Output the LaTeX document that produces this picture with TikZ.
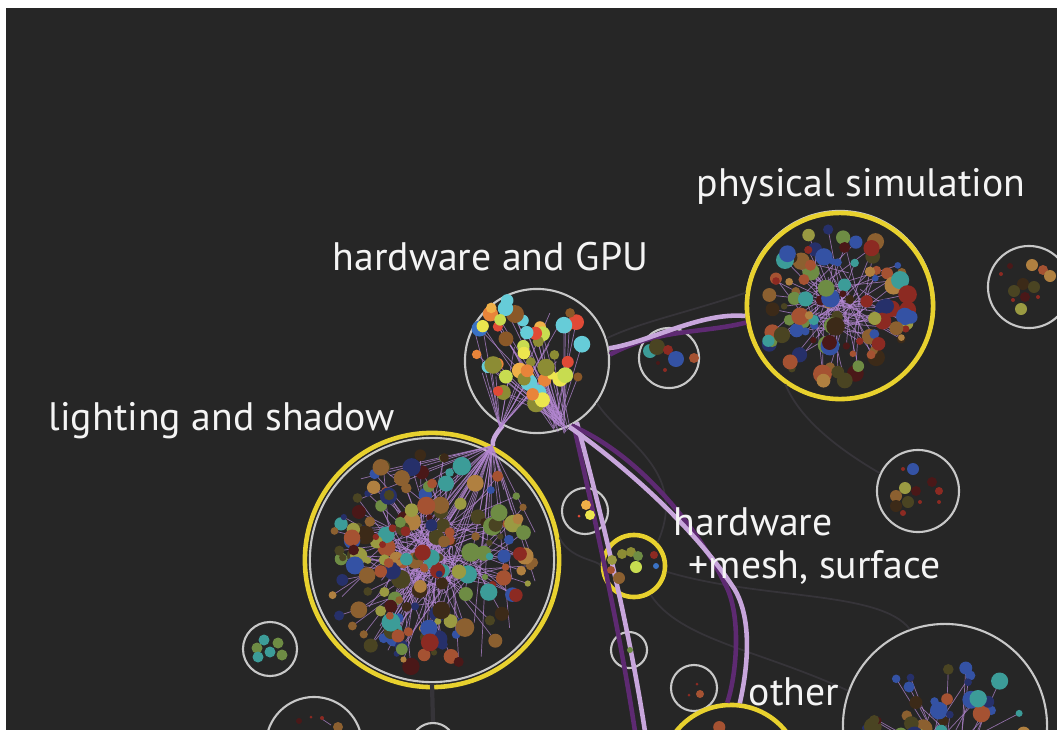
\documentclass[tikz,border=0pt]{standalone}
\usepackage{fontspec}
\setmainfont{PT Sans}
\usepackage{tikz}

\definecolor{backdrop}{HTML}{262626}
\definecolor{ringgray}{HTML}{C8C8C8}
\definecolor{hiyellow}{HTML}{E8D12E}
\definecolor{bundlelight}{HTML}{C8A6DC}
\definecolor{bundledark}{HTML}{5E2A72}
\definecolor{faintgray}{HTML}{363439}
\definecolor{fibrepurple}{HTML}{B487D2}
\definecolor{labelwhite}{HTML}{F4F4F4}
\definecolor{wOrange}{HTML}{E8843A}
\definecolor{wAmber}{HTML}{F0B048}
\definecolor{wYellow}{HTML}{ECE64E}
\definecolor{wLime}{HTML}{C8DC50}
\definecolor{wBlue}{HTML}{3A72C4}
\definecolor{wCyan}{HTML}{66CCD8}
\definecolor{wRed}{HTML}{E04A36}
\definecolor{wOlive}{HTML}{8C8C34}
\definecolor{wBrown}{HTML}{8A5828}
\definecolor{mOlive}{HTML}{4A4422}
\definecolor{mBrown}{HTML}{3C2A18}
\definecolor{mTan}{HTML}{8C6030}
\definecolor{mRust}{HTML}{A55232}
\definecolor{mKhaki}{HTML}{9A9A42}
\definecolor{mGreen}{HTML}{6E8C44}
\definecolor{mTeal}{HTML}{3C9C98}
\definecolor{mNavy}{HTML}{26306A}
\definecolor{mBlue}{HTML}{3452A4}
\definecolor{mMaroon}{HTML}{4A1818}
\definecolor{mRed}{HTML}{8C2A22}
\definecolor{mOchre}{HTML}{B08040}

\def\warmcols{{"wOrange","wAmber","wYellow","wLime","wBlue","wCyan","wRed","wOlive","wBrown","wOrange","wYellow","wCyan"}}
\def\mutedcols{{"mOlive","mBrown","mTan","mRust","mKhaki","mGreen","mTeal","mNavy","mBlue","mMaroon","mRed","mOchre"}}
\def\dotmin{3}
\def\dotvar{6.5}

\tikzset{
  ring/.style={circle,draw=ringgray,line width=0.6pt,inner sep=0pt,minimum size=#1*0.02cm},
  hilite/.style={circle,draw=hiyellow,line width=1.3pt,inner sep=0pt,minimum size=#1*0.02cm},
  bundle/.style={draw=bundlelight,line width=1.3pt},
  darkbundle/.style={draw=bundledark,line width=1.3pt},
  faint/.style={draw=faintgray,line width=0.5pt},
  fibre/.style={draw=fibrepurple,line width=0.2pt,draw opacity=0.75},
  topic/.style={text=labelwhite,font=\fontsize{11.3}{13}\selectfont,anchor=base west,inner sep=0pt}
}

\newcommand\dotweb[9]{%
  \pgfmathsetseed{#5}
  \foreach \k in {1,...,#4}{
    \pgfmathsetmacro\ang{360*rnd}
    \pgfmathsetmacro\rad{#3*sqrt(rnd)}
    \pgfmathsetmacro\sz{\dotmin+\dotvar*rnd}
    \pgfmathtruncatemacro\ci{12*rnd}
    \pgfmathsetmacro\tang{360*rnd}
    \pgfmathsetmacro\trad{#9*rnd}
    \draw[fibre] ({#1+\rad*cos(\ang)},{#2+\rad*sin(\ang)}) -- ({#7+\trad*cos(\tang)},{#8+\trad*sin(\tang)});
  }
  \pgfmathsetseed{#5}
  \foreach \k in {1,...,#4}{
    \pgfmathsetmacro\ang{360*rnd}
    \pgfmathsetmacro\rad{#3*sqrt(rnd)}
    \pgfmathsetmacro\sz{\dotmin+\dotvar*rnd}
    \pgfmathtruncatemacro\ci{12*rnd}
    \pgfmathsetmacro\tang{360*rnd}
    \pgfmathsetmacro\trad{#9*rnd}
    \pgfmathsetmacro\col{#6[\ci]}
    \fill[\col] ({#1+\rad*cos(\ang)},{#2+\rad*sin(\ang)}) circle (\sz);
  }}

\newcommand\fanweb[7]{%
  \pgfmathsetseed{#7}
  \foreach \k in {1,...,#6}{
    \pgfmathsetmacro\ang{360*rnd}
    \pgfmathsetmacro\rad{#5*sqrt(rnd)}
    \draw[fibre] (#1,#2) -- ({#3+\rad*cos(\ang)},{#4+\rad*sin(\ang)});
  }}

\begin{document}
\begin{tikzpicture}[x=0.01cm,y=-0.01cm]
\useasboundingbox (0,0) rectangle (1057,730);
\fill[white] (0,0) rectangle (1057,730);
\fill[backdrop] (6,8) rectangle (1057,730);
\begin{scope}
\clip (6,8) rectangle (1057,730);
\node[ring=72] (gpu) at (537,361) {};
\node[ring=30] (gpuside) at (669,358) {};
\node[ring=94] (physin) at (840,305) {};
\node[hilite=93] (phys) at (840,306) {};
\node[ring=41] (farright) at (1029,287) {};
\node[ring=122] (lightin) at (432,560) {};
\node[hilite=127] (light) at (432,560) {};
\node[ring=23] (pair) at (585,511) {};
\node[hilite=31] (mesh) at (634,566) {};
\node[ring=18] (lone) at (629,650) {};
\node[ring=23] (sparse) at (694,688) {};
\node[hilite=70] (other) at (731,775) {};
\node[ring=102] (bigright) at (945,726) {};
\node[ring=41] (midright) at (918,491) {};
\node[ring=27] (teal) at (270,649) {};
\node[ring=48] (lowleft) at (314,745) {};
\node[ring=22] (lowmid) at (433,745) {};
\coordinate (offA) at (637,745);
\coordinate (offB) at (647,745);

\draw[faint] (gpu.18) .. controls (640,322) and (690,312) .. (phys.172);
\draw[faint] (gpu.-35) .. controls (620,440) and (690,470) .. (mesh.45);
\draw[faint] (mesh.-60) .. controls (680,640) and (760,650) .. (bigright.160);
\draw[faint] (mesh.-10) .. controls (760,600) and (880,590) .. (bigright.110);
\draw[faint] (mesh.180) .. controls (600,560) and (570,560) .. (light.10);
\draw[faint] (phys.-125) .. controls (800,420) and (840,450) .. (midright.155);
\draw[faint,line width=1.2pt] (lightin.-90) -- (lowmid.90);

\draw[darkbundle] (gpu.5) .. controls (660,328) and (700,334) .. (phys.190);
\draw[bundle] (gpu.10) .. controls (650,342) and (700,312) .. (phys.186);
\draw[darkbundle] (gpu.-60) .. controls (595,520) and (622,640) .. (offA);
\draw[bundle] (gpu.-57) .. controls (603,520) and (632,640) .. (offB);
\draw[darkbundle] (gpu.-62) .. controls (640,455) and (700,530) .. (728,590) .. controls (742,625) and (735,680) .. (other.93);
\draw[bundle] (gpu.-64) .. controls (610,455) and (690,520) .. (735,590) .. controls (755,625) and (745,680) .. (other.83);
\draw[bundle] (gpu.-118) .. controls (495,435) and (492,440) .. (light.62);

\fanweb{492}{446}{432}{560}{110}{40}{7}
\fanweb{500}{428}{525}{345}{55}{18}{9}
\dotweb{432}{562}{108}{185}{11}{\mutedcols}{432}{560}{45}
\dotweb{836}{305}{78}{105}{23}{\mutedcols}{836}{305}{35}
\dotweb{945}{745}{85}{90}{31}{\mutedcols}{945}{760}{35}
\dotweb{731}{785}{60}{40}{41}{\mutedcols}{731}{760}{20}
\def\dotmin{4.5}
\def\dotvar{4.5}
\dotweb{530}{348}{56}{50}{5}{\warmcols}{562}{424}{10}

\fill[mTeal] (650,351) circle (7);
\fill[mOlive] (657,347) circle (8);
\fill[mRed] (668,350) circle (5);
\fill[mBlue] (676,359) circle (8);
\fill[mRust] (694,358) circle (5);
\fill[mMaroon] (658,363) circle (2);
\fill[mRed] (665,370) circle (2);

\fill[mOchre] (1032,265) circle (6);
\fill[mRust] (1043,270) circle (5);
\fill[mOchre] (1050,276) circle (6);
\fill[mBrown] (1023,284) circle (6);
\fill[mOlive] (1014,291) circle (6);
\fill[mOlive] (1034,287) circle (6);
\fill[mMaroon] (1025,297) circle (5);
\fill[mKhaki] (1021,309) circle (6);
\fill[mMaroon] (1010,266) circle (3);
\fill[mRed] (1001,274) circle (2);
\fill[mRed] (1038,297) circle (2);
\fill[mRed] (1013,300) circle (2);

\fill[wAmber] (586,505) circle (5);
\fill[wYellow] (590,515) circle (5);
\fill[wRed] (579,516) circle (1.5);

\fill[wOlive] (622,554) circle (5);
\fill[mKhaki] (612,560) circle (5);
\fill[wOlive] (631,552) circle (5);
\fill[mGreen] (638,556) circle (5);
\fill[wLime] (636,567) circle (6);
\fill[mRust] (611,570) circle (4);
\fill[mTan] (619,578) circle (6);
\fill[mRed] (654,555) circle (4);
\fill[wBlue] (656,566) circle (3);

\fill[mGreen] (630,650) circle (3);

\fill[mRust] (700,694) circle (4);
\fill[mRed] (697,684) circle (1.5);
\fill[mRed] (689,695) circle (1.5);

\fill[mBlue] (913,469) circle (6);
\fill[mKhaki] (905,488) circle (6);
\fill[mOlive] (908,502) circle (6);
\fill[mTan] (896,496) circle (6);
\fill[mBrown] (896,506) circle (6);
\fill[mMaroon] (916,491) circle (5);
\fill[mMaroon] (932,482) circle (5);
\fill[mRed] (939,491) circle (4);
\fill[mRed] (903,513) circle (3);
\fill[mRed] (920,502) circle (2);
\fill[mRed] (939,502) circle (2);
\fill[mRed] (903,469) circle (2);

\fill[mTeal] (264,640) circle (5.5);
\fill[mGreen] (257,648) circle (5.5);
\fill[mGreen] (278,643) circle (5.5);
\fill[mTeal] (270,652) circle (5.5);
\fill[mGreen] (282,655) circle (5.5);
\fill[mTeal] (258,657) circle (5.5);

\draw[fibre] (331,725) -- (322,719);
\fill[mMaroon] (299,721) circle (3);
\fill[mRed] (311,717) circle (1.5);
\fill[mRed] (322,718) circle (2);
\fill[mTan] (338,727) circle (5);
\end{scope}
\node[topic] (tphys) at (696,196) {physical simulation};
\node[topic] (tgpu) at (332,270) {hardware and GPU};
\node[topic] (tlight) at (48,430) {lighting and shadow};
\node[topic] (tmesh) at (673,535) {hardware};
\node[topic] (tmesh2) at (688,578) {+mesh, surface};
\node[topic] (tother) at (748,705) {other};
\end{tikzpicture}
\end{document}
